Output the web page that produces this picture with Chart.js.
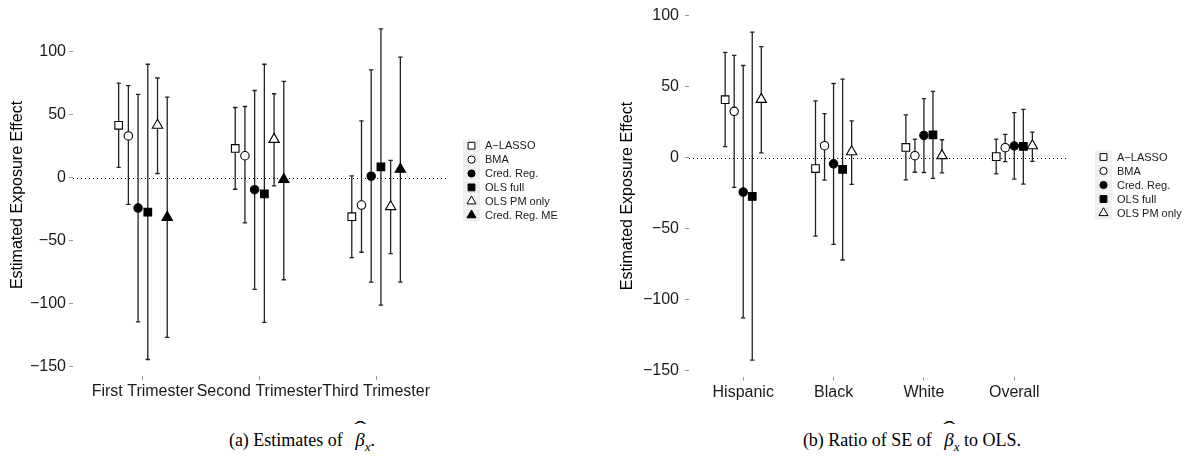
<!DOCTYPE html>
<html>
<head>
<meta charset="utf-8">
<script src="https://cdn.jsdelivr.net/npm/chart.js@4.4.1/dist/chart.umd.min.js"></script>
<style>
  body { margin: 0; background: #fff; width: 1185px; height: 466px; position: relative; overflow: hidden; }
  canvas { position: absolute; top: 0; }
  #chartA { left: 0; }
  #chartB { left: 600px; }
  .cap { position: absolute; top: 429px; font-family: "Liberation Serif", "DejaVu Serif", serif; font-size: 18px; color: #000; white-space: nowrap; transform: translateX(-50%); }
  .cap i { font-style: italic; }
  .beta { margin-left: 8px; font-size: 19px; }
  .hat { position: relative; display: inline-block; }
  .hat::before { content: "\02C6"; position: absolute; left: 2px; top: -11px; font-size: 20px; font-style: normal; transform: scaleX(1.8); }
  .cap sub { font-size: 13px; }
</style>
</head>
<body>
<canvas id="chartA" width="600" height="410"></canvas>
<canvas id="chartB" width="585" height="410"></canvas>
<div class="cap" style="left:302px">(a) Estimates of <span class="hat beta"><i>β</i></span><sub><i>x</i></sub>.</div>
<div class="cap" style="left:912px">(b) Ratio of SE of <span class="hat beta"><i>β</i></span><sub><i>x</i></sub> to OLS.</div>
<script>
// panel (a): trimesters
const trimesters = ['First Trimester', 'Second Trimester', 'Third Trimester'];
const methodsA = ['A\u2212LASSO', 'BMA', 'Cred. Reg.', 'OLS full', 'OLS PM only', 'Cred. Reg. ME'];
// rows = methods, cols = trimesters
const estA = [
  [41.5, 23.1, -31.1],
  [33.0, 17.3, -21.8],
  [-24.2, -9.6, 1.1],
  [-27.4, -13.0, 8.5],
  [41.5, 30.3, -23.1],
  [-31.6, -1.6, 6.6]
];
const lowA = [
  [8.0, -9.3, -63.6],
  [-21.3, -35.9, -59.3],
  [-114.6, -88.8, -83.0],
  [-144.4, -114.9, -101.3],
  [3.2, -6.6, -60.4],
  [-126.9, -81.1, -83.0]
];
const highA = [
  [75.0, 55.6, 1.3],
  [72.9, 56.4, 45.0],
  [66.0, 69.1, 85.4],
  [89.9, 89.9, 118.0],
  [79.0, 66.5, 13.6],
  [63.8, 76.3, 95.6]
];

// panel (b): groups
const groups = ['Hispanic', 'Black', 'White', 'Overall'];
const methodsB = ['A\u2212LASSO', 'BMA', 'Cred. Reg.', 'OLS full', 'OLS PM only'];
const estB = [
  [40.9, -7.7, 7.2, 0.7],
  [32.7, 8.4, 1.4, 7.0],
  [-24.3, -4.4, 15.7, 8.2],
  [-27.3, -8.2, 16.1, 7.9],
  [41.1, 4.2, 1.4, 8.4]
];
const lowB = [
  [7.7, -55.4, -15.7, -11.4],
  [-21.0, -15.9, -10.3, -2.8],
  [-113.1, -61.2, -10.5, -15.2],
  [-142.8, -72.2, -14.7, -18.7],
  [3.3, -18.9, -10.7, -2.6]
];
const highB = [
  [74.3, 40.0, 30.1, 13.1],
  [72.2, 31.1, 13.1, 16.4],
  [65.0, 52.3, 41.6, 31.8],
  [88.6, 55.4, 46.7, 34.1],
  [78.3, 25.9, 12.6, 18.0]
];

const yTicks = [-150, -100, -50, 0, 50, 100];

// marker look per method (same order in both panels)
const shapes = ['rect', 'circle', 'circle', 'rect', 'triangle', 'triangle'];
const filled = [false, false, true, true, false, true];
const radii = { rect: 5.4, circle: 4.2, triangle: 6 };

const FONT = '"Liberation Sans", Arial, Helvetica, sans-serif';
const minus = v => (v < 0 ? '\u2212' + Math.abs(v) : String(v));

function buildDatasets(methods, est, low, high) {
  const n = methods.length;
  const dodge = 0.5 / n;
  return methods.map((m, i) => {
    const off = (i - (n - 1) / 2) * dodge;
    return {
      label: m,
      data: est[i].map((v, j) => ({ x: j + 1 + off, y: v })),
      lows: low[i],
      highs: high[i],
      pointStyle: shapes[i],
      pointRadius: radii[shapes[i]],
      pointBorderWidth: 1.1,
      pointBackgroundColor: filled[i] ? '#000' : '#fff',
      pointBorderColor: '#000',
      showLine: false
    };
  });
}

// vertical error bars with caps, drawn under the points
const errorBars = {
  id: 'errorBars',
  beforeDatasetsDraw(chart) {
    const { ctx, scales: { x, y } } = chart;
    ctx.save();
    ctx.strokeStyle = '#222';
    ctx.lineWidth = 1.3;
    chart.data.datasets.forEach(ds => {
      ds.data.forEach((p, j) => {
        const px = x.getPixelForValue(p.x);
        const y1 = y.getPixelForValue(ds.lows[j]);
        const y2 = y.getPixelForValue(ds.highs[j]);
        ctx.beginPath();
        ctx.moveTo(px, y1); ctx.lineTo(px, y2);
        ctx.moveTo(px - 2.2, y1); ctx.lineTo(px + 2.2, y1);
        ctx.moveTo(px - 2.2, y2); ctx.lineTo(px + 2.2, y2);
        ctx.stroke();
      });
    });
    ctx.restore();
  }
};

// dotted reference line at zero
const zeroLine = {
  id: 'zeroLine',
  beforeDatasetsDraw(chart) {
    const { ctx, chartArea, scales: { y } } = chart;
    const py = Math.round(y.getPixelForValue(0)) + 0.5;
    ctx.save();
    ctx.strokeStyle = '#000';
    ctx.lineWidth = 1;
    ctx.setLineDash([1, 3]);
    ctx.beginPath();
    ctx.moveTo(chartArea.left, py);
    ctx.lineTo(chartArea.right, py);
    ctx.stroke();
    ctx.restore();
  }
};

// ggplot-like legend: grey key boxes with the marker, label on the right
const keyLegend = {
  id: 'keyLegend',
  afterDraw(chart, args, opts) {
    const { ctx } = chart;
    ctx.save();
    chart.data.datasets.forEach((ds, i) => {
      const cy = opts.y + i * opts.step;
      ctx.fillStyle = '#efefef';
      ctx.fillRect(opts.x, cy - 6.5, 17, 13);
      const r = { rect: 4.8, circle: 3.6, triangle: 5.2 }[ds.pointStyle];
      ctx.fillStyle = ds.pointBackgroundColor;
      ctx.strokeStyle = '#000';
      ctx.lineWidth = 1;
      Chart.helpers.drawPoint(ctx, { pointStyle: ds.pointStyle, radius: r, rotation: 0, borderWidth: 1 }, opts.x + 8.5, cy);
      ctx.fillStyle = '#1a1a1a';
      ctx.font = '11px ' + FONT;
      ctx.textBaseline = 'middle';
      ctx.fillText(ds.label, opts.x + 22, cy + 0.5);
    });
    ctx.restore();
  }
};

function makeChart(id, cats, datasets, cfg) {
  return new Chart(document.getElementById(id), {
    type: 'scatter',
    data: { datasets },
    plugins: [zeroLine, errorBars, keyLegend],
    options: {
      responsive: false,
      animation: false,
      devicePixelRatio: 1,
      layout: { padding: { top: cfg.top, right: cfg.right, left: 0, bottom: 0 } },
      plugins: {
        legend: { display: false },
        tooltip: { enabled: false },
        keyLegend: cfg.legend
      },
      scales: {
        x: {
          type: 'linear',
          min: 0.4,
          max: cats.length + 0.6,
          afterBuildTicks: s => { s.ticks = cats.map((c, i) => ({ value: i + 1 })); },
          afterFit: s => { s.height = cfg.xHeight; },
          ticks: {
            autoSkip: false,
            maxRotation: 0,
            padding: 2,
            color: '#1a1a1a',
            font: { size: 16, family: FONT },
            callback: v => cats[v - 1]
          },
          grid: { drawOnChartArea: false, tickLength: 4, color: '#999', tickWidth: 1 },
          border: { display: false }
        },
        y: {
          min: cfg.yMin,
          max: cfg.yMax,
          afterBuildTicks: s => { s.ticks = yTicks.map(v => ({ value: v })); },
          afterFit: s => { s.width = cfg.yWidth; },
          ticks: {
            padding: cfg.yPad,
            color: '#1a1a1a',
            font: { size: 16, family: FONT },
            callback: v => minus(v)
          },
          grid: { drawOnChartArea: false, tickLength: 4, color: '#999', tickWidth: 1 },
          border: { display: false },
          title: {
            display: true,
            text: 'Estimated Exposure Effect',
            color: '#000',
            font: { size: 16, family: FONT },
            padding: { top: cfg.titlePad, bottom: 0 }
          }
        }
      }
    }
  });
}

makeChart('chartA', trimesters, buildDatasets(methodsA, estA, lowA, highA), {
  top: 14, right: 154, xHeight: 34, yWidth: 73, yPad: 3, titlePad: 8,
  yMin: -157.5, yMax: 129.8,
  legend: { x: 463, y: 145.7, step: 13.9 }
});

makeChart('chartB', groups, buildDatasets(methodsB, estB, lowB, highB), {
  top: 13, right: 116.5, xHeight: 33.5, yWidth: 89, yPad: 6, titlePad: 18,
  yMin: -154.4, yMax: 100.2,
  legend: { x: 495, y: 157, step: 14 }
});
</script>
</body>
</html>
